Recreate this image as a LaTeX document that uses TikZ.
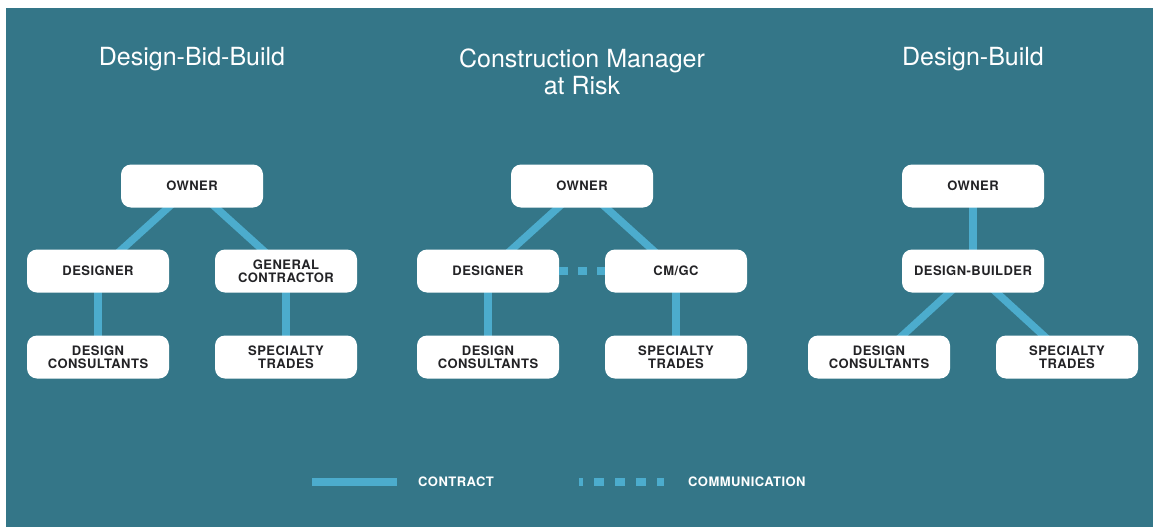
\documentclass[tikz,border=0pt]{standalone}
\usepackage{fontspec}
\setmainfont{TeX Gyre Heros}
\newfontfamily\capsfont[LetterSpace=3.5]{TeX Gyre Heros}
\usetikzlibrary{backgrounds}
\definecolor{tealbg}{RGB}{52,118,136}
\definecolor{lineblue}{RGB}{76,172,205}
\definecolor{boxtext}{RGB}{35,35,38}

\begin{document}
\begin{tikzpicture}[x=1pt,y=-1pt,
  box/.style={fill=white,rounded corners=10pt,minimum width=142pt,minimum height=43pt,inner sep=0pt,align=center,text=boxtext,font=\capsfont\bfseries\fontsize{13}{13}\selectfont},
  title/.style={text=white,align=center,font=\fontsize{25}{27}\selectfont},
  contract/.style={lineblue,line width=7.5pt},
  comm/.style={lineblue,line width=7.5pt,dash pattern=on 9pt off 10pt},
  legend/.style={text=white,anchor=west,inner sep=0pt,font=\capsfont\bfseries\fontsize{13}{13}\selectfont}]
  \useasboundingbox (0,0) rectangle (1153,527);
  \begin{pgfonlayer}{background}
    \fill[tealbg] (6,8) rectangle (1153,527);
  \end{pgfonlayer}
  % Left part: Design-Bid-Build
  \node[title]  (tA)   at (192,59)  {Design-Bid-Build};
  \node[box]    (ownA) at (192,186) {OWNER};
  \node[box]    (desA) at (98,271)  {DESIGNER};
  \node[box]    (gcA)  at (286,271) {GENERAL\\CONTRACTOR};
  \node[box]    (dcA)  at (98,357)  {DESIGN\\CONSULTANTS};
  \node[box]    (stA)  at (286,357) {SPECIALTY\\TRADES};
  % Middle part: Construction Manager at Risk
  \node[title]  (tB)   at (582,72)  {Construction Manager\\at Risk};
  \node[box]    (ownB) at (582,186) {OWNER};
  \node[box]    (desB) at (488,271) {DESIGNER};
  \node[box]    (cmB)  at (676,271) {CM/GC};
  \node[box]    (dcB)  at (488,357) {DESIGN\\CONSULTANTS};
  \node[box]    (stB)  at (676,357) {SPECIALTY\\TRADES};
  % Right part: Design-Build
  \node[title]  (tC)   at (973,59)  {Design-Build};
  \node[box]    (ownC) at (973,186) {OWNER};
  \node[box]    (dbC)  at (973,271) {DESIGN-BUILDER};
  \node[box]    (dcC)  at (879,357) {DESIGN\\CONSULTANTS};
  \node[box]    (stC)  at (1067,357) {SPECIALTY\\TRADES};
  % contract lines, behind the boxes
  \begin{pgfonlayer}{background}
    \draw[contract] (ownA.center) -- (desA.center);
    \draw[contract] (ownA.center) -- (gcA.center);
    \draw[contract] (desA.center) -- (dcA.center);
    \draw[contract] (gcA.center) -- (stA.center);
    \draw[contract] (ownB.center) -- (desB.center);
    \draw[contract] (ownB.center) -- (cmB.center);
    \draw[contract] (desB.center) -- (dcB.center);
    \draw[contract] (cmB.center) -- (stB.center);
    \draw[contract] (ownC.center) -- (dbC.center);
    \draw[contract] (dbC.center) -- (dcC.center);
    \draw[contract] (dbC.center) -- (stC.center);
  \end{pgfonlayer}
  \draw[comm] (desB) -- (cmB);
  % legend
  \coordinate (ctA) at (312,482);
  \coordinate (ctB) at (397,482);
  \coordinate (cmA) at (579,482);
  \coordinate (cmZ) at (664,482);
  \draw[contract] (ctA) -- (ctB);
  \draw[comm,dash pattern=on 10pt off 11pt,dash phase=6pt] (cmA) -- (cmZ);
  \node[legend] (lgA) at (418,482) {CONTRACT};
  \node[legend] (lgB) at (688,482) {COMMUNICATION};
\end{tikzpicture}
\end{document}
